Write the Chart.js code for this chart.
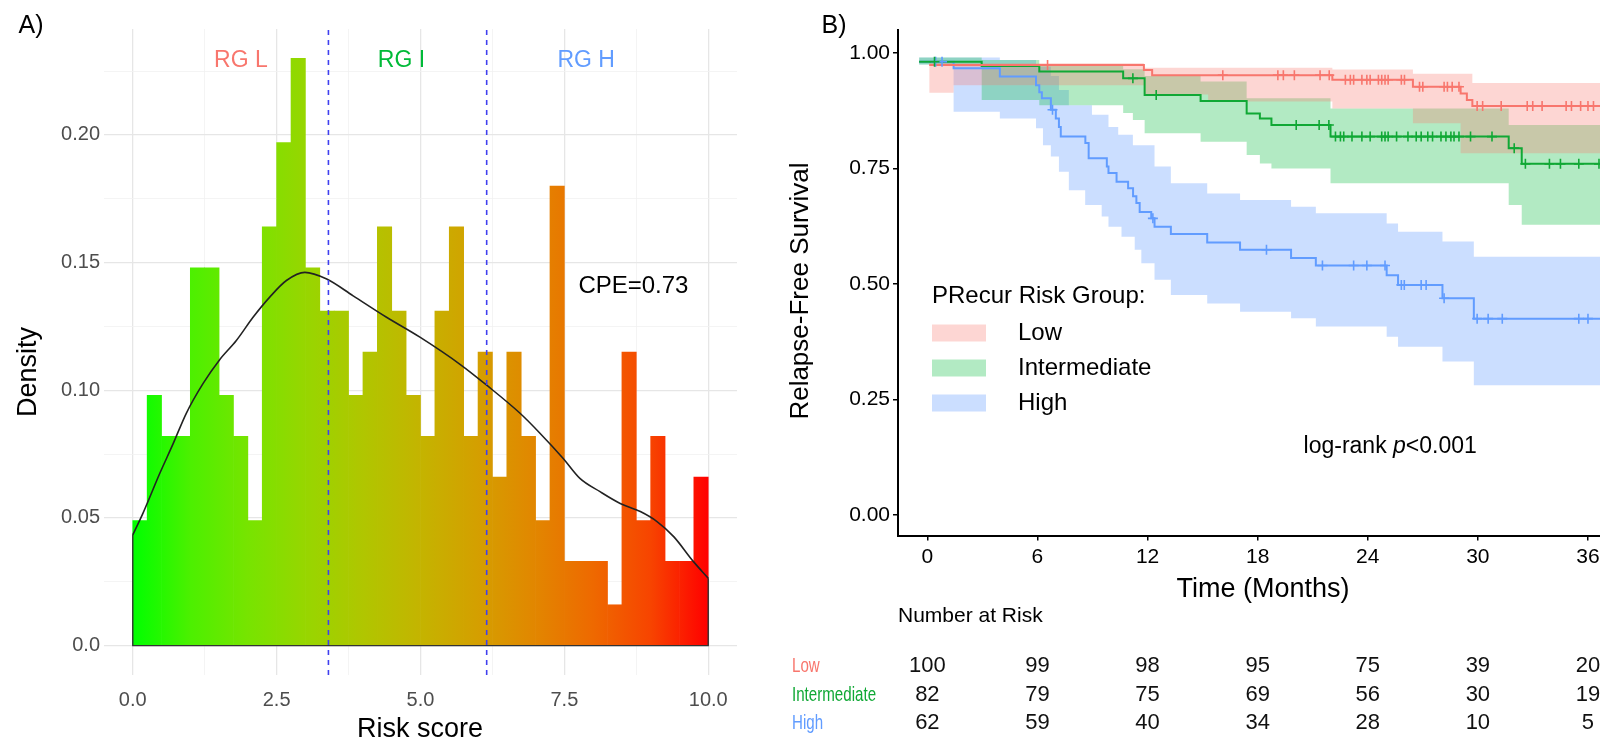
<!DOCTYPE html>
<html>
<head>
<meta charset="utf-8">
<script src="https://cdn.jsdelivr.net/npm/chart.js@4.4.1/dist/chart.umd.min.js"></script>
<style>
  html, body { margin: 0; padding: 0; background: #fff; overflow: hidden; width: 1600px; height: 740px; }
  #left { position: absolute; left: 0; top: 0; width: 760px; height: 740px; }
  #right { position: absolute; left: 760px; top: 0; width: 920px; height: 740px; }
</style>
</head>
<body>
<div id="left"><canvas id="histo"></canvas></div>
<div id="right"><canvas id="km"></canvas></div>
<script>
// ---------- A) histogram of risk score ----------
const binWidth = 0.25
const histDensity = [0.049,0.098,0.082,0.082,0.148,0.148,0.098,0.082,0.049,0.164,
                     0.197,0.230,0.148,0.131,0.131,0.098,0.115,0.164,0.131,0.098,
                     0.082,0.131,0.164,0.082,0.115,0.066,0.115,0.082,0.049,0.180,
                     0.033,0.033,0.033,0.016,0.115,0.049,0.082,0.033,0.033,0.066]
const kdeX = [0, 0.18, 0.47, 0.70, 0.93, 1.22, 1.51, 1.8, 2.09, 2.38, 2.67, 2.99, 3.37, 3.83,
              4.41, 4.99, 5.71, 6.15, 6.73, 7.08, 7.48, 7.77, 8.12, 8.47, 8.82, 9.11, 9.40, 9.74, 10.0]
const kdeY = [0.0434, 0.052, 0.0675, 0.079, 0.091, 0.1026, 0.112, 0.1195, 0.1286, 0.1365, 0.143, 0.1462, 0.1436, 0.137,
              0.1286, 0.1208, 0.1098, 0.102, 0.091, 0.0831, 0.0733, 0.0655, 0.0603, 0.0557, 0.0525, 0.0486, 0.0427, 0.033, 0.0264]
const cutoffs = [3.4, 6.15]
const groupNames = ["RG L", "RG I", "RG H"]
const groupLabelX = [1.88, 4.67, 7.88]
const groupColors = ["#F8766D", "#00BA38", "#619CFF"]
const histXMajor = [0, 2.5, 5, 7.5, 10]
const histXLabels = ["0.0", "2.5", "5.0", "7.5", "10.0"]
const histXMinor = [1.25, 3.75, 6.25, 8.75]
const histYMajor = [0, 0.05, 0.10, 0.15, 0.20]
const histYLabels = ["0.0", "0.05", "0.10", "0.15", "0.20"]
const histYMinor = [0.025, 0.075, 0.125, 0.175, 0.225]
const fillStopPos = [0, 0.1, 0.2, 0.3, 0.4, 0.5, 0.6, 0.7, 0.8, 0.9, 1]
const fillStopColor = ["#00ff00", "#4cf000", "#77e400", "#97d600", "#b0c600", "#c4b400",
                       "#d49f00", "#e28600", "#ee6900", "#f74400", "#ff0000"]

// ---------- B) Kaplan-Meier ----------
const lowTime = [0.1, 11.8, 12.25, 22.07, 26.46, 29.06, 29.4, 29.7, 37.5]
const lowSurv = [0.974, 0.963, 0.952, 0.942, 0.927, 0.912, 0.898, 0.885, 0.885]
const lowBandTime = [0.1, 1.43, 11.8, 15.3, 22.07, 26.46, 29.06, 29.7, 37.5]
const lowUpper = [0.98, 0.978, 0.968, 0.968, 0.964, 0.955, 0.955, 0.935, 0.935]
const lowLower = [0.914, 0.93, 0.91, 0.895, 0.88, 0.848, 0.783, 0.783, 0.783]
const lowCensor = [6.55, 16.1, 19.1, 19.4, 20.0, 21.4, 21.9, 22.78, 23.05, 23.23, 23.68, 23.95, 24.13, 24.58,
                   24.76, 24.94, 25.11, 25.83, 26.0, 26.82, 27.0, 28.16, 28.34, 28.6, 28.97, 29.96, 30.26,
                   31.27, 32.69, 32.99, 33.5, 34.81, 35.1, 35.6, 36.0, 36.3]

const intTime = [-0.45, 2.96, 6.1, 10.67, 11.84, 14.89, 17.4, 18.12, 18.75, 21.97, 31.68, 32.39, 37.5]
const intSurv = [0.981, 0.972, 0.960, 0.945, 0.909, 0.896, 0.869, 0.858, 0.844, 0.819, 0.794, 0.760, 0.760]
const intBandTime = [-0.45, 2.96, 6.1, 10.67, 11.2, 11.84, 14.89, 17.4, 18.12, 18.75, 21.97, 31.68, 32.39, 37.5]
const intUpper = [0.99, 0.985, 0.975, 0.965, 0.965, 0.95, 0.938, 0.902, 0.902, 0.902, 0.88, 0.844, 0.844, 0.844]
const intLower = [0.975, 0.898, 0.887, 0.87, 0.855, 0.826, 0.808, 0.779, 0.761, 0.75, 0.718, 0.671, 0.628, 0.628]
const intCensor = [0.39, 11.2, 12.47, 20.1, 21.35, 21.88, 22.24, 22.51, 22.69, 23.14, 23.68, 24.13, 24.76, 24.94,
                   25.11, 25.57, 26.19, 26.64, 26.91, 27.27, 27.53, 27.99, 28.26, 28.53, 28.7, 28.97, 29.6,
                   30.77, 31.98, 32.59, 33.9, 34.5, 35.5, 36.6]

const highTime = [-0.45, 1.43, 3.95, 5.92, 6.1, 6.24, 6.73, 7.0, 7.17, 7.27, 8.61, 8.79, 9.78, 9.87, 10.31,
                  10.94, 11.21, 11.39, 11.57, 12.2, 12.38, 13.27, 15.25, 17.04, 19.82, 21.17, 25.03, 25.65,
                  28.07, 29.78, 37.5]
const highSurv = [0.981, 0.967, 0.949, 0.93, 0.915, 0.902, 0.877, 0.858, 0.84, 0.819, 0.805, 0.772, 0.754, 0.74, 0.721,
                  0.707, 0.69, 0.675, 0.656, 0.642, 0.624, 0.608, 0.59, 0.574, 0.556, 0.54, 0.519, 0.498,
                  0.469, 0.425, 0.425]
const highBandTime = [-0.45, 1.43, 3.95, 5.92, 6.3, 6.73, 7.17, 7.71, 8.6, 8.97, 9.5, 9.87, 10.4, 10.58,
                      11.2, 11.3, 11.66, 12.38, 13.27, 15.25, 17.04, 19.82, 21.17, 25.03, 25.65, 28.07, 29.78, 37.5]
const highUpper = [0.99, 0.99, 0.985, 0.97, 0.97, 0.95, 0.92, 0.887, 0.887, 0.866, 0.866, 0.84, 0.823, 0.823,
                   0.80, 0.80, 0.80, 0.754, 0.718, 0.696, 0.682, 0.667, 0.653, 0.631, 0.613, 0.592, 0.559, 0.559]
const highLower = [0.975, 0.873, 0.858, 0.837, 0.80, 0.776, 0.743, 0.703, 0.671, 0.671, 0.646, 0.624, 0.624, 0.602,
                   0.602, 0.574, 0.545, 0.509, 0.476, 0.458, 0.44, 0.426, 0.408, 0.386, 0.364, 0.332, 0.281, 0.281]
const highCensor = [0.45, 0.8, 6.82, 12.29, 18.48, 21.53, 23.23, 23.95, 24.94, 25.83, 25.99, 26.91, 27.18,
                    28.16, 29.96, 30.56, 31.33, 35.5, 36.0]

const riskGroups = ["Low", "Intermediate", "High"]
const lineColors = ["#F8766D", "#10A835", "#619CFF"]
const bandColors = ["rgba(248,118,109,0.30)", "rgba(0,186,56,0.30)", "rgba(97,156,255,0.33)"]
const kmXTicks = [0, 6, 12, 18, 24, 30, 36]
const kmYTicks = [0, 0.25, 0.5, 0.75, 1.0]
const tableTimes = [0, 6, 12, 18, 24, 30, 36]
const lowAtRisk = [100, 99, 98, 95, 75, 39, 20]
const intAtRisk = [82, 79, 75, 69, 56, 30, 19]
const highAtRisk = [62, 59, 40, 34, 28, 10, 5]

const FONT = '"Liberation Sans", Arial, sans-serif'

const drawText = (ctx, text, x, y, size, color, align = "center", rot = 0, style = "") => {
  ctx.save()
  ctx.translate(x, y)
  if (rot) ctx.rotate(rot)
  ctx.font = `${style}${size}px ${FONT}`
  ctx.fillStyle = color
  ctx.textAlign = align
  ctx.textBaseline = "middle"
  ctx.fillText(text, 0, 0)
  ctx.restore()
}

const near = (a, b) => Math.abs(a - b) < 1e-9
const isMajor = (list, c) => c.tick ? list.some(m => near(m, c.tick.value)) : true

// ---------- histogram chart ----------
const gradientFill = (c) => {
  const chart = c.chart
  if (!chart.chartArea) return null
  const x0 = chart.scales.x.getPixelForValue(0)
  const x1 = chart.scales.x.getPixelForValue(10)
  const g = chart.ctx.createLinearGradient(x0, 0, x1, 0)
  fillStopPos.forEach((p, i) => g.addColorStop(p, fillStopColor[i]))
  return g
}

const histNotes = {
  id: "histNotes",
  afterDraw(chart) {
    const { ctx, scales: { x, y } } = chart
    groupNames.forEach((n, i) => {
      drawText(ctx, n, x.getPixelForValue(groupLabelX[i]), y.getPixelForValue(0.229), 23, groupColors[i])
    })
    drawText(ctx, "CPE=0.73", x.getPixelForValue(8.7), y.getPixelForValue(0.1406), 24, "#000")
    drawText(ctx, "A)", 31, 26, 25, "#000")
    drawText(ctx, "Density", 29, 372, 27, "#000", "center", -Math.PI / 2)
    drawText(ctx, "Risk score", 420, 730, 27, "#000")
  }
}

const cutoffSets = cutoffs.map(c => ({
  type: "line",
  data: [{ x: c, y: -0.0115 }, { x: c, y: 0.2415 }],
  borderColor: "#3f3fef",
  borderWidth: 1.6,
  borderDash: [5, 5],
  pointRadius: 0,
  order: 0
}))

new Chart(document.getElementById("histo"), {
  type: "bar",
  data: {
    datasets: [
      ...cutoffSets,
      {
        type: "line",
        data: kdeX.map((v, i) => ({ x: v, y: kdeY[i] })),
        borderColor: "#222",
        borderWidth: 1.6,
        pointRadius: 0,
        cubicInterpolationMode: "monotone",
        order: 1
      },
      {
        type: "line",
        data: [{ x: 0, y: kdeY[0] }, { x: 0, y: 0 }, { x: 10, y: 0 }, { x: 10, y: kdeY[kdeY.length - 1] }],
        borderColor: "#333",
        borderWidth: 1.4,
        pointRadius: 0,
        order: 1
      },
      {
        type: "bar",
        data: histDensity.map((d, i) => ({ x: i * binWidth + binWidth / 2, y: d })),
        backgroundColor: gradientFill,
        borderWidth: 0,
        barPercentage: 1,
        categoryPercentage: 1,
        grouped: false,
        order: 5
      }
    ]
  },
  options: {
    responsive: true,
    maintainAspectRatio: false,
    animation: false,
    layout: { padding: { left: 0, top: 29, right: 23, bottom: 0 } },
    plugins: { legend: { display: false }, tooltip: { enabled: false } },
    scales: {
      x: {
        type: "linear",
        min: -0.5,
        max: 10.5,
        offset: false,
        afterBuildTicks: s => { s.ticks = [...histXMajor, ...histXMinor].sort((a, b) => a - b).map(v => ({ value: v })) },
        afterFit: s => { s.height = 65 },
        border: { display: false },
        grid: {
          offset: false,
          drawTicks: false,
          color: c => isMajor(histXMajor, c) ? "#e6e6e6" : "#f1f1f1",
          lineWidth: c => isMajor(histXMajor, c) ? 1.3 : 0.8
        },
        ticks: {
          padding: 13,
          color: "#4d4d4d",
          font: { family: FONT, size: 20 },
          maxRotation: 0,
          autoSkip: false,
          callback: v => {
            const k = histXMajor.findIndex(m => near(m, v))
            return k >= 0 ? histXLabels[k] : ""
          }
        }
      },
      y: {
        min: -0.0115,
        max: 0.2415,
        afterBuildTicks: s => { s.ticks = [...histYMajor, ...histYMinor].sort((a, b) => a - b).map(v => ({ value: v })) },
        afterFit: s => { s.width = 104 },
        border: { display: false },
        grid: {
          drawTicks: false,
          color: c => isMajor(histYMajor, c) ? "#e6e6e6" : "#f1f1f1",
          lineWidth: c => isMajor(histYMajor, c) ? 1.3 : 0.8
        },
        ticks: {
          padding: 4,
          color: "#4d4d4d",
          font: { family: FONT, size: 20 },
          autoSkip: false,
          callback: v => {
            const k = histYMajor.findIndex(m => near(m, v))
            return k >= 0 ? histYLabels[k] : ""
          }
        }
      }
    }
  },
  plugins: [histNotes]
})

// ---------- KM chart ----------
const survAt = (times, surv, t) => {
  let v = surv[0]
  times.forEach((tt, i) => { if (tt <= t + 1e-9) v = surv[i] })
  return v
}

const groups = [
  { time: lowTime, surv: lowSurv, bandTime: lowBandTime, upper: lowUpper, lower: lowLower, censor: lowCensor },
  { time: intTime, surv: intSurv, bandTime: intBandTime, upper: intUpper, lower: intLower, censor: intCensor },
  { time: highTime, surv: highSurv, bandTime: highBandTime, upper: highUpper, lower: highLower, censor: highCensor }
]

const kmSets = []
groups.forEach((g, i) => {
  kmSets.push({
    type: "scatter",
    data: g.censor.map(t => ({ x: t, y: survAt(g.time, g.surv, t) })),
    pointStyle: "cross",
    pointRadius: 5,
    borderColor: lineColors[i],
    pointBorderWidth: 1.6,
    showLine: false,
    order: 0
  })
  kmSets.push({
    data: g.time.map((t, k) => ({ x: t, y: g.surv[k] })),
    borderColor: lineColors[i],
    borderWidth: 2,
    stepped: true,
    pointRadius: 0,
    fill: false,
    order: 1
  })
})
groups.forEach((g, i) => {
  kmSets.push({
    data: g.bandTime.map((t, k) => ({ x: t, y: g.upper[k] })),
    borderWidth: 0,
    borderColor: "rgba(0,0,0,0)",
    backgroundColor: bandColors[i],
    stepped: true,
    pointRadius: 0,
    fill: "+1",
    order: 5
  })
  kmSets.push({
    data: g.bandTime.map((t, k) => ({ x: t, y: g.lower[k] })),
    borderWidth: 0,
    borderColor: "rgba(0,0,0,0)",
    stepped: true,
    pointRadius: 0,
    fill: false,
    order: 5
  })
})

const kmNotes = {
  id: "kmNotes",
  afterDraw(chart) {
    const { ctx, scales: { x, y } } = chart
    drawText(ctx, "B)", 74, 26, 25, "#000")
    drawText(ctx, "Relapse-Free Survival", 41, 291, 26, "#000", "center", -Math.PI / 2)
    drawText(ctx, "Time (Months)", 503, 590, 27, "#000")

    // legend
    drawText(ctx, "PRecur Risk Group:", 172, 296, 24, "#000", "left")
    riskGroups.forEach((n, i) => {
      const cy = 333 + i * 35
      ctx.fillStyle = bandColors[i]
      ctx.fillRect(172, cy - 8.5, 54, 17)
      drawText(ctx, n, 258, cy, 24, "#000", "left")
    })

    // log-rank
    const lx = x.getPixelForValue(20.5)
    const ly = y.getPixelForValue(0.147)
    ctx.font = `23px ${FONT}`
    const w1 = ctx.measureText("log-rank ").width
    ctx.font = `italic 23px ${FONT}`
    const w2 = ctx.measureText("p").width
    drawText(ctx, "log-rank ", lx, ly, 23, "#000", "left")
    drawText(ctx, "p", lx + w1, ly, 23, "#000", "left", 0, "italic ")
    drawText(ctx, "<0.001", lx + w1 + w2, ly, 23, "#000", "left")

    // number at risk table
    drawText(ctx, "Number at Risk", 138, 616, 21, "#000", "left")
    const rows = [lowAtRisk, intAtRisk, highAtRisk]
    const rowY = [666, 695, 723]
    rows.forEach((r, i) => {
      ctx.save()
      ctx.translate(32, rowY[i])
      ctx.scale(0.72, 1)
      drawText(ctx, riskGroups[i], 0, 0, 21, lineColors[i], "left")
      ctx.restore()
      r.forEach((n, j) => {
        drawText(ctx, String(n), x.getPixelForValue(tableTimes[j]), rowY[i], 22, "#111")
      })
    })
  }
}

new Chart(document.getElementById("km"), {
  type: "line",
  data: { datasets: kmSets },
  options: {
    responsive: true,
    maintainAspectRatio: false,
    animation: false,
    layout: { padding: { left: 0, top: 30, right: 27.8, bottom: 0 } },
    plugins: { legend: { display: false }, tooltip: { enabled: false } },
    scales: {
      x: {
        type: "linear",
        min: -1.6,
        max: 39.5,
        afterBuildTicks: s => { s.ticks = kmXTicks.map(v => ({ value: v })) },
        afterFit: s => { s.height = 204.5 },
        border: { display: true, color: "#000", width: 2 },
        grid: { drawOnChartArea: false, drawTicks: true, tickLength: 5, color: "#000", lineWidth: 1.5 },
        ticks: { padding: 4, color: "#000", font: { family: FONT, size: 21 }, maxRotation: 0, autoSkip: false }
      },
      y: {
        min: -0.0444,
        max: 1.0497,
        afterBuildTicks: s => { s.ticks = kmYTicks.map(v => ({ value: v })) },
        afterFit: s => { s.width = 138 },
        border: { display: true, color: "#000", width: 2 },
        grid: { drawOnChartArea: false, drawTicks: true, tickLength: 5, color: "#000", lineWidth: 1.5 },
        ticks: { padding: 3, color: "#000", font: { family: FONT, size: 21 }, autoSkip: false, callback: v => v.toFixed(2) }
      }
    }
  },
  plugins: [kmNotes]
})
</script>
</body>
</html>
